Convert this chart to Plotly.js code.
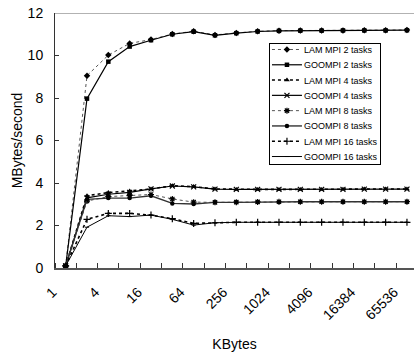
<!DOCTYPE html>
<html>
<head>
<meta charset="utf-8">
<script src="https://cdn.plot.ly/plotly-3.0.1.min.js"></script>
<style>html,body{margin:0;padding:0;background:#fff;}#chart{width:414px;height:356px;}</style>
</head>
<body>
<div id="chart"></div>
<script>
// Message size categories (KBytes)
const kbytes = [1, 2, 4, 8, 16, 32, 64, 128, 256, 512, 1024, 2048, 4096, 8192, 16384, 32768, 65536];
const tickLabels = ["1", "4", "16", "64", "256", "1024", "4096", "16384", "65536"];

// Series (MBytes/second)
const lam2   = [0.10, 9.05, 10.02, 10.57, 10.75, 11.01, 11.14, 10.97, 11.06, 11.14, 11.17, 11.18, 11.18, 11.18, 11.19, 11.19, 11.20];
const goo2   = [0.10, 7.97, 9.71, 10.42, 10.72, 11.00, 11.12, 10.95, 11.05, 11.13, 11.16, 11.17, 11.17, 11.18, 11.18, 11.18, 11.19];
const lam4   = [0.10, 3.40, 3.55, 3.62, 3.72, 3.87, 3.83, 3.72, 3.70, 3.70, 3.70, 3.70, 3.70, 3.71, 3.72, 3.72, 3.72];
const goo4   = [0.10, 3.30, 3.47, 3.56, 3.72, 3.86, 3.82, 3.71, 3.70, 3.70, 3.70, 3.70, 3.70, 3.70, 3.71, 3.71, 3.71];
const lam8   = [0.10, 3.15, 3.36, 3.42, 3.46, 3.25, 3.10, 3.09, 3.10, 3.11, 3.12, 3.12, 3.12, 3.12, 3.12, 3.12, 3.12];
const goo8   = [0.10, 3.23, 3.29, 3.29, 3.40, 3.04, 3.01, 3.09, 3.09, 3.11, 3.11, 3.12, 3.12, 3.12, 3.12, 3.12, 3.12];
const lam16  = [0.10, 2.29, 2.57, 2.57, 2.49, 2.32, 2.10, 2.13, 2.15, 2.15, 2.15, 2.15, 2.15, 2.15, 2.15, 2.15, 2.15];
const goo16  = [0.10, 1.92, 2.46, 2.42, 2.49, 2.29, 2.02, 2.13, 2.15, 2.15, 2.15, 2.15, 2.15, 2.15, 2.15, 2.15, 2.15];

const seriesNames = ["LAM MPI 2 tasks", "GOOMPI 2 tasks", "LAM MPI 4 tasks", "GOOMPI 4 tasks",
                     "LAM MPI 8 tasks", "GOOMPI 8 tasks", "LAM MPI 16 tasks", "GOOMPI 16 tasks"];
const seriesValues = [lam2, goo2, lam4, goo4, lam8, goo8, lam16, goo16];

const styles = [
  {line: {color: '#555', width: 1, dash: 'dot'}, marker: {symbol: 'diamond', size: 5, color: '#000'}},
  {line: {color: '#000', width: 1.2, dash: 'solid'}, marker: {symbol: 'square', size: 4.5, color: '#000'}},
  {line: {color: '#000', width: 1.6, dash: 'dot'}, marker: {symbol: 'triangle-up', size: 5, color: '#000'}},
  {line: {color: '#000', width: 1.2, dash: 'solid'}, marker: {symbol: 'x-thin-open', size: 5, color: '#000', line: {width: 1.2, color: '#000'}}},
  {line: {color: '#555', width: 1, dash: 'dot'}, marker: {symbol: 'asterisk-open', size: 5, color: '#000', line: {width: 1.2, color: '#000'}}},
  {line: {color: '#333', width: 1.4, dash: 'solid'}, marker: {symbol: 'circle', size: 4.5, color: '#000'}},
  {line: {color: '#000', width: 1.6, dash: 'dot'}, marker: {symbol: 'cross-thin-open', size: 5, color: '#000', line: {width: 1.2, color: '#000'}}},
  {line: {color: '#000', width: 1, dash: 'solid'}, marker: {symbol: 'line-ew-open', size: 3, color: '#000', line: {width: 1, color: '#000'}}}
];

const xIdx = kbytes.map((_, i) => i);
const traces = seriesValues.map((vals, k) => ({
  type: 'scatter',
  mode: 'lines+markers',
  name: seriesNames[k],
  x: xIdx,
  y: vals,
  line: styles[k].line,
  marker: styles[k].marker
}));

const tickPos = tickLabels.map(t => kbytes.indexOf(Number(t)));

const layout = {
  width: 414, height: 356,
  margin: {l: 55, r: 0, t: 13, b: 88},
  paper_bgcolor: '#fff', plot_bgcolor: '#fff',
  font: {family: '"Liberation Sans", Arial, sans-serif', color: '#000', size: 14},
  showlegend: true,
  legend: {
    x: 0.596, y: 0.882, xanchor: 'left', yanchor: 'top',
    bordercolor: '#000', borderwidth: 1, bgcolor: '#fff',
    font: {size: 9, family: '"Liberation Sans", Arial, sans-serif'},
    itemwidth: 30, tracegroupgap: 0
  },
  xaxis: {
    range: [-0.5, 16.33],
    tickmode: 'array', tickvals: tickPos, ticktext: tickLabels,
    tickangle: -45, ticks: '', tickfont: {size: 14},
    ticklabelshift: -13, ticklabelstandoff: 9,
    showgrid: false, zeroline: false,
    showline: true, linecolor: '#555', linewidth: 1.5,
    minor: {tick0: 0.5, dtick: 1, ticks: 'inside', ticklen: 5, tickcolor: '#333', tickwidth: 1, showgrid: false},
    title: {text: 'KBytes', font: {size: 14}, standoff: 17}
  },
  yaxis: {
    range: [0, 12], dtick: 2, tick0: 0,
    ticks: 'inside', ticklen: 4, tickcolor: '#333',
    showgrid: false, zeroline: false,
    showline: true, linecolor: '#333', linewidth: 1,
    tickfont: {size: 14}, ticklabelstandoff: 8,
    title: {text: 'MBytes/second', font: {size: 14}, standoff: 1}
  },
  shapes: [{type: 'line', xref: 'paper', yref: 'y', x0: 0, x1: 1, y0: 12, y1: 12, line: {color: '#999', width: 1.5}}]
};

Plotly.newPlot('chart', traces, layout, {displayModeBar: false, staticPlot: true}).then(() => {
  // Tighten legend rows (Plotly enforces a 19px minimum row height)
  const firstY = 6.4, step = 15.29, dx = -3, textX = 37;
  const items = document.querySelectorAll('.legend .traces');
  let maxRight = 0;
  items.forEach((g, i) => {
    g.setAttribute('transform', `translate(${1 + dx},${firstY + i * step})`);
    const t = g.querySelector('text.legendtext');
    if (t) {
      t.setAttribute('x', textX);
      maxRight = Math.max(maxRight, 1 + dx + textX + t.getComputedTextLength());
    }
  });
  const bg = document.querySelector('.legend rect.bg');
  if (bg) {
    bg.setAttribute('height', 121);
    if (maxRight > 0) bg.setAttribute('width', Math.ceil(maxRight + 2));
  }
});
</script>
</body>
</html>
